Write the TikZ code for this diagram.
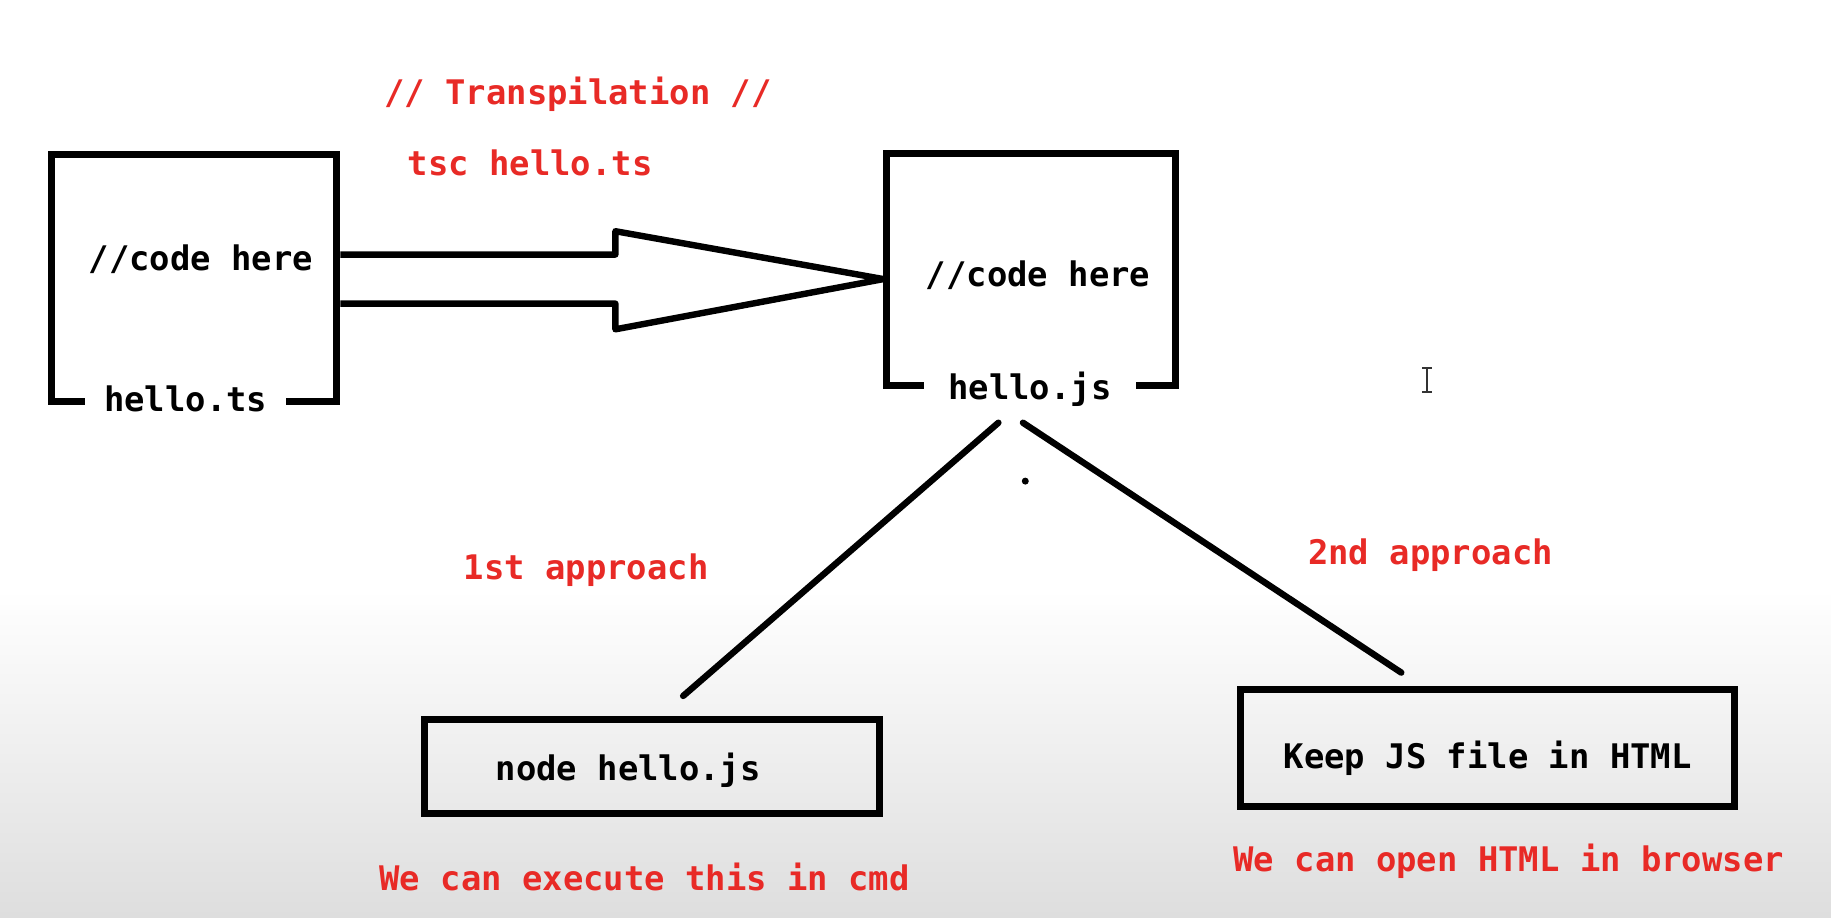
\documentclass[tikz,border=0pt]{standalone}
\usepackage{fontspec}
\newfontfamily\codefont{DejaVu Sans Mono}
\definecolor{redtxt}{RGB}{232,42,38}
\definecolor{ink}{RGB}{0,0,0}
\begin{document}
\begin{tikzpicture}[x=1pt,y=-1pt,
  txt/.style={font=\codefont\bfseries\fontsize{29}{34}\selectfont, text height=21pt, text depth=0pt, inner sep=0pt},
  redlabel/.style={txt, text=redtxt},
  blacklabel/.style={txt, text=ink},
  filebox/.style={draw=ink, line width=6pt, minimum width=#1, inner sep=0pt},
  gaplabel/.style={blacklabel, fill=white, inner xsep=20pt, inner ysep=2pt},
  conn/.style={draw=ink, line width=5.5pt, line cap=round, line join=round}
]
\useasboundingbox (0,0) rectangle (1568,786);
\fill[white] (0,0) rectangle (1568,786);
\shade[top color=white, bottom color=black!13] (0,505) rectangle (1568,786);

% file boxes
\node[filebox=244pt, minimum height=211pt] (ts) at (166.5,238) {};
\node[filebox=247pt, minimum height=199pt] (js) at (883,231) {};
\node[filebox=390pt, minimum height=80pt] (runbox) at (558.5,656.5) {};
\node[filebox=423pt, minimum height=100pt] (htmlbox) at (1274,640.5) {};

% texts inside boxes
\node[blacklabel] (tscode) at (172,221) {//code here};
\node[blacklabel] (jscode) at (889,235) {//code here};
\node[gaplabel, inner xsep=16pt] (tsname) at (159,342) {hello.ts};
\node[gaplabel, inner xsep=21pt] (jsname) at (882,332) {hello.js};
\node[blacklabel] (runtxt) at (538,658) {node hello.js};
\node[blacklabel] (htmltxt) at (1274,648) {Keep JS file in HTML};

% red annotations
\node[redlabel] (transp) at (495,79) {// Transpilation //};
\node[redlabel] (tsc) at (454,140) {tsc hello.ts};
\node[redlabel] (first) at (502,486) {1st approach};
\node[redlabel] (second) at (1225,473) {2nd approach};
\node[redlabel] (runnote) at (552,752) {We can execute this in cmd};
\node[redlabel] (htmlnote) at (1292,736) {We can open HTML in browser};

% big hollow arrow
\coordinate (ashaftT) at (0,218);
\coordinate (ashaftB) at (0,260);
\coordinate (atip) at (0,239);
\coordinate (aheadT) at (527,198);
\coordinate (aheadB) at (527,282);
\coordinate (aneckT) at (527,218);
\coordinate (aneckB) at (527,260);
\draw[conn, line cap=butt] (ts.east |- ashaftT) -- (aneckT) -- (aheadT) -- (js.west |- atip)
  -- (aheadB) -- (aneckB) -- (ts.east |- ashaftB);

% branch lines
\coordinate (b1s) at (855,362);
\coordinate (b1e) at (585,596);
\coordinate (b2s) at (876,362);
\coordinate (b2e) at (1200,576);
\draw[conn] (b1s) -- (b1e);
\draw[conn] (b2s) -- (b2e);

% stray dot
\fill[ink] (878,412) circle (3pt);

% text cursor (I-beam)
\draw[black!80, line width=1.6pt] (1222,315) -- (1222,336)
  (1218,315) -- (1226,315) (1218,336) -- (1226,336);
\end{tikzpicture}
\end{document}
